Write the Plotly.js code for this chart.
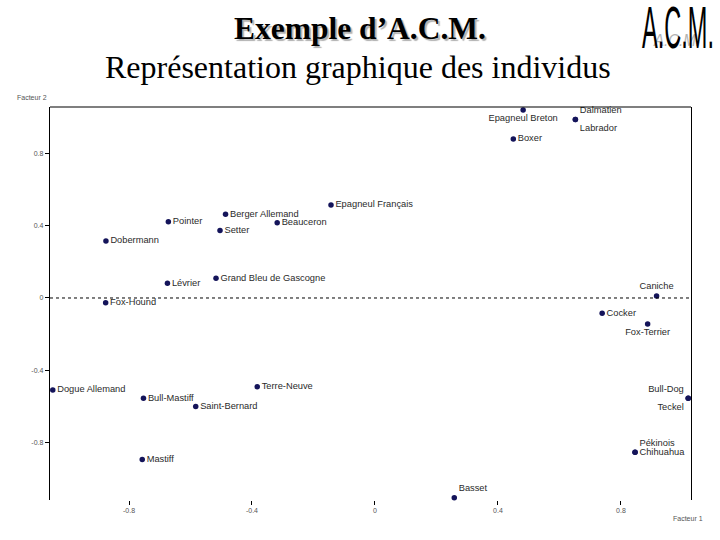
<!DOCTYPE html>
<html>
<head>
<meta charset="utf-8">
<script src="https://cdn.plot.ly/plotly-3.0.1.min.js"></script>
<style>
  html, body { margin: 0; padding: 0; background: #fff; }
  #wrap { position: relative; width: 720px; height: 540px; }
  #chart { position: absolute; left: 0; top: 0; width: 720px; height: 540px; }
  #logo { position: absolute; left: 630px; top: 0px; width: 86px; height: 56px; pointer-events: none; }
</style>
</head>
<body>
<div id="wrap">
  <div id="chart"></div>
  <svg id="logo" width="86" height="56" viewBox="0 0 86 56">
    <text x="24" y="46" font-family="Liberation Sans" font-style="italic" font-size="17" fill="#b4b4b4"
          textLength="46" lengthAdjust="spacingAndGlyphs">A.C.M.</text>
    <text x="12" y="48" font-family="Liberation Sans" font-size="60" fill="#000"
          textLength="72" lengthAdjust="spacingAndGlyphs">A.C.M.</text>
  </svg>
</div>
<script>
// Individuals (dog breeds) on factors 1 and 2
const breeds = ["Dobermann","Pointer","Berger Allemand","Setter","Beauceron","Epagneul Français",
  "Lévrier","Grand Bleu de Gascogne","Fox-Hound","Epagneul Breton","Dalmatien","Labrador","Boxer",
  "Caniche","Cocker","Fox-Terrier","Bull-Dog","Teckel","Pékinois","Chihuahua","Basset",
  "Dogue Allemand","Bull-Mastiff","Saint-Bernard","Terre-Neuve","Mastiff"];
const factor1 = [-0.875,-0.672,-0.486,-0.504,-0.318,-0.143,
  -0.675,-0.517,-0.876,0.482,0.652,0.652,0.450,
  0.916,0.739,0.887,1.019,1.019,0.846,0.846,0.258,
  -1.048,-0.753,-0.583,-0.383,-0.757];
const factor2 = [0.315,0.422,0.463,0.374,0.417,0.515,
  0.081,0.109,-0.026,1.040,0.988,0.988,0.880,
  0.011,-0.085,-0.144,-0.555,-0.555,-0.854,-0.854,-1.105,
  -0.509,-0.555,-0.601,-0.491,-0.894];
const labelPos = ["middle right","middle right","middle right","middle right","middle right","middle right",
  "middle right","middle right","middle right","bottom center","top right","bottom right","middle right",
  "top center","middle right","bottom center","top left","bottom left","top right","middle right","top right",
  "middle right","middle right","middle right","middle right","middle right"];
const tickVals = [-0.8,-0.4,0,0.4,0.8];
const tickText = ["-0.8","-0.4","0","0.4","0.8"];

const trace = {
  type: "scatter",
  mode: "markers+text",
  x: factor1,
  y: factor2,
  text: breeds,
  textposition: labelPos,
  textfont: {family: "Liberation Sans", size: 9.3, color: "#2a2a2a"},
  marker: {color: "#14145a", size: 5.5},
  cliponaxis: false,
  hoverinfo: "text"
};

const pxX = v => (v - 50) / 641;
const pxY = v => (500 - v) / 393;

const layout = {
  width: 720, height: 540,
  margin: {l: 50, r: 29, t: 107, b: 40},
  paper_bgcolor: "#ffffff",
  plot_bgcolor: "#ffffff",
  showlegend: false,
  xaxis: {
    range: [-1.057, 1.028],
    tickvals: tickVals, ticktext: tickText,
    ticks: "outside", ticklen: 4, tickcolor: "#000", tickwidth: 1,
    tickfont: {family: "Liberation Sans", size: 7, color: "#555"},
    showgrid: false, zeroline: false, showline: false
  },
  yaxis: {
    range: [-1.118, 1.057],
    tickvals: tickVals, ticktext: tickText,
    ticks: "outside", ticklen: 4, tickcolor: "#000", tickwidth: 1,
    tickfont: {family: "Liberation Sans", size: 7, color: "#555"},
    showgrid: false, zeroline: false,
    showline: true, mirror: true, linecolor: "#000", linewidth: 1.2
  },
  shapes: [
    {type: "line", xref: "paper", yref: "paper", x0: 0, x1: 1, y0: 1, y1: 1,
     line: {color: "#000", width: 1.2}},
    {type: "line", xref: "paper", yref: "y", x0: 0, x1: 1, y0: 0, y1: 0,
     line: {color: "#000", width: 1, dash: "dot"}}
  ],
  annotations: [
    {text: "<b>Exemple d’A.C.M.</b>", xref: "paper", yref: "paper", x: pxX(360), y: pxY(29),
     showarrow: false, xanchor: "center", yanchor: "middle",
     font: {family: "Liberation Serif", size: 31.5, color: "#000", shadow: "2px 2px 1px #b0b0b0"}},
    {text: "Représentation graphique des individus", xref: "paper", yref: "paper", x: pxX(358), y: pxY(67),
     showarrow: false, xanchor: "center", yanchor: "middle",
     font: {family: "Liberation Serif", size: 32, color: "#000"}},
    {text: "Facteur 2", xref: "paper", yref: "paper", x: pxX(32), y: pxY(97),
     showarrow: false, xanchor: "center", yanchor: "middle",
     font: {family: "Liberation Sans", size: 7, color: "#555"}},
    {text: "Facteur 1", xref: "paper", yref: "paper", x: pxX(688), y: pxY(518),
     showarrow: false, xanchor: "center", yanchor: "middle",
     font: {family: "Liberation Sans", size: 7, color: "#555"}}
  ]
};

Plotly.newPlot("chart", [trace], layout, {displayModeBar: false, staticPlot: true});
</script>
</body>
</html>
